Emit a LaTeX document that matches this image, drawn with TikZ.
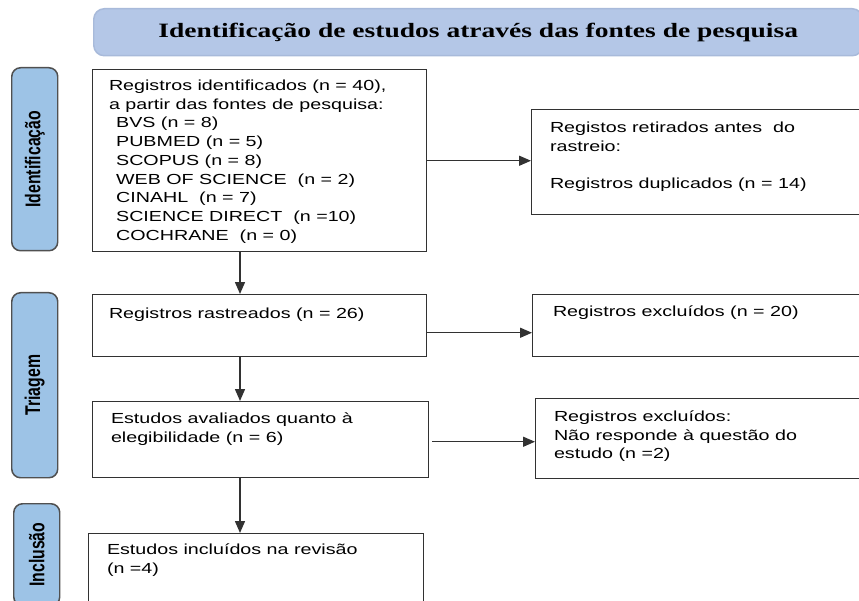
\documentclass[tikz,border=0pt]{standalone}
\usepackage{fontspec}
\setmainfont{Liberation Serif}
\setsansfont{Liberation Sans}
\usetikzlibrary{positioning}
\usetikzlibrary{calc}
\usetikzlibrary{math}
\usetikzlibrary{arrows.meta}

\definecolor{titlefill}{RGB}{180,199,231}
\definecolor{titleline}{RGB}{168,186,218}
\definecolor{phasefill}{RGB}{157,195,230}
\definecolor{phaseline}{RGB}{80,80,80}
\definecolor{boxline}{RGB}{50,50,50}

\begin{document}
\begin{tikzpicture}[x=0.02cm,y=-0.02cm,line width=0.85pt,
  box/.style 2 args={draw=boxline, anchor=north west, inner sep=0pt,
    minimum width=#1*0.02cm, minimum height=#2*0.02cm},
  phase/.style 2 args={draw=phaseline, fill=phasefill, rounded corners=5pt,
    anchor=north west, inner sep=0pt,
    minimum width=#1*0.02cm, minimum height=#2*0.02cm},
  txt/.style={anchor=north west, align=left, inner sep=0pt, xscale=\sx,
    font=\sffamily\fontsize{8.3}{10.67}\selectfont},
  phasetxt/.style={xscale=\sx, rotate=90, inner sep=0pt,
    font=\sffamily\bfseries\fontsize{9}{10}\selectfont},
  arr/.style={draw=boxline, -{Triangle[length=0.24cm,width=0.2cm]}}]

  \tikzmath{
    \sx     = 1.35; % horizontal stretch of all text
    \spinex = 240;  % x of the vertical arrows
  }

  \useasboundingbox (0,0) rectangle (859,601);
  \clip (0,0) rectangle (859,601);

  % heading
  \node[draw=titleline, fill=titlefill, rounded corners=6pt, anchor=north west,
    minimum width=769*0.02cm, minimum height=47*0.02cm] (title) at (93,8) {};
  \node[xscale=\sx, inner sep=0pt, font=\rmfamily\bfseries\fontsize{11.6}{13}\selectfont]
    (titletxt) at (title.center) {Identificação de estudos através das fontes de pesquisa};

  % phases on the left
  \node[phase={46}{183}] (ident) at (11,67) {};
  \node[phasetxt] (identtxt) at (ident.center) {Identificação};
  \node[phase={46}{185}] (triag) at (11,292) {};
  \node[phasetxt] (triagtxt) at (triag.center) {Triagem};
  \node[phase={46}{102}] (incls) at (13,503) {};
  \node[phasetxt] (inclstxt) at (incls.center) {Inclusão};

  % main column
  \node[box={334}{182}] (reg) at (92,69) {};
  \node[txt] (regtxt) at ($(reg.north west)+(16,10)$) {Registros identificados (n = 40),\\
    a partir das fontes de pesquisa:\\
    \hspace*{3pt}BVS (n = 8)\\
    \hspace*{3pt}PUBMED (n = 5)\\
    \hspace*{3pt}SCOPUS (n = 8)\\
    \hspace*{3pt}WEB OF SCIENCE\ \ (n = 2)\\
    \hspace*{3pt}CINAHL\ \ (n = 7)\\
    \hspace*{3pt}SCIENCE DIRECT\ \ (n =10)\\
    \hspace*{3pt}COCHRANE\ \ (n = 0)};

  \node[box={334}{62}] (scr) at (92,294) {};
  \node[txt] (scrtxt) at ($(scr.north west)+(16,13)$) {Registros rastreados (n = 26)};

  \node[box={336}{76}] (eleg) at (92,401) {};
  \node[txt] (elegtxt) at ($(eleg.north west)+(18,11)$) {Estudos avaliados quanto à\\
    elegibilidade (n = 6)};

  \node[box={335}{80}] (incl) at (88,533) {};
  \node[txt] (incltxt) at ($(incl.north west)+(18,10)$) {Estudos incluídos na revisão\\
    (n =4)};

  % removed records on the right
  \node[box={340}{105}] (dup) at (531,109) {};
  \node[txt] (duptxt) at ($(dup.north west)+(18,12)$) {Registos retirados antes\ \ do\\
    rastreio:\\[10.67pt]
    Registros duplicados (n = 14)};

  \node[box={340}{62}] (exc1) at (532,294) {};
  \node[txt] (exc1txt) at ($(exc1.north west)+(20,11)$) {Registros excluídos (n = 20)};

  \node[box={340}{80}] (exc2) at (535,398) {};
  \node[txt] (exc2txt) at ($(exc2.north west)+(18,12)$) {Registros excluídos:\\
    Não responde à questão do\\
    estudo (n =2)};

  % arrows
  \coordinate (spine) at (\spinex,0);
  \draw[arr] (reg.south -| spine) -- (scr.north -| spine);
  \draw[arr] (scr.south -| spine) -- (eleg.north -| spine);
  \draw[arr] (eleg.south -| spine) -- (incl.north -| spine);

  \draw[arr] (reg.east) -- (reg.east -| dup.west);
  \draw[arr] ($(scr.east)+(0,7)$) -- ($(scr.east -| exc1.west)+(0,7)$);
  \draw[arr] ($(eleg.east)+(3,2)$) -- ($(eleg.east -| exc2.west)+(0,2)$);

\end{tikzpicture}
\end{document}
